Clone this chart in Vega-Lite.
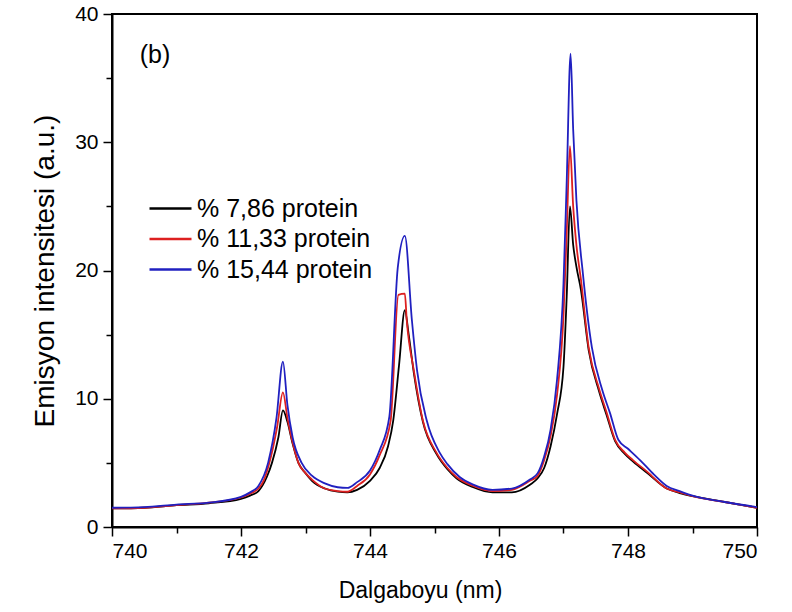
{
  "$schema": "https://vega.github.io/schema/vega-lite/v6.json",
  "width": 645,
  "height": 513,
  "autosize": "none",
  "padding": {"left": 112, "top": 14, "right": 35, "bottom": 85},
  "background": "white",
  "config": {
    "font": "Liberation Sans",
    "view": {"stroke": "black", "strokeWidth": 2},
    "axis": {"domainColor": "black", "domainWidth": 2, "tickColor": "black", "tickWidth": 1.5, "labelColor": "black", "titleColor": "black", "grid": false, "labelFont": "Liberation Sans", "titleFont": "Liberation Sans", "titleFontWeight": "normal"}
  },
  "datasets": {
    "spectra": [
      {"s": "% 7,86 protein", "nm": 740.0, "v": 1.45},
      {"s": "% 7,86 protein", "nm": 740.5, "v": 1.5},
      {"s": "% 7,86 protein", "nm": 741.0, "v": 1.7},
      {"s": "% 7,86 protein", "nm": 741.5, "v": 1.85},
      {"s": "% 7,86 protein", "nm": 742.0, "v": 2.2},
      {"s": "% 7,86 protein", "nm": 742.14, "v": 2.45},
      {"s": "% 7,86 protein", "nm": 742.27, "v": 2.8},
      {"s": "% 7,86 protein", "nm": 742.4, "v": 3.9},
      {"s": "% 7,86 protein", "nm": 742.48, "v": 5.0},
      {"s": "% 7,86 protein", "nm": 742.58, "v": 7.0},
      {"s": "% 7,86 protein", "nm": 742.65, "v": 9.1},
      {"s": "% 7,86 protein", "nm": 742.72, "v": 8.2},
      {"s": "% 7,86 protein", "nm": 742.8, "v": 6.5},
      {"s": "% 7,86 protein", "nm": 742.89, "v": 5.0},
      {"s": "% 7,86 protein", "nm": 743.0, "v": 4.2},
      {"s": "% 7,86 protein", "nm": 743.1, "v": 3.6},
      {"s": "% 7,86 protein", "nm": 743.3, "v": 3.0},
      {"s": "% 7,86 protein", "nm": 743.5, "v": 2.75},
      {"s": "% 7,86 protein", "nm": 743.65, "v": 2.7},
      {"s": "% 7,86 protein", "nm": 743.8, "v": 2.9},
      {"s": "% 7,86 protein", "nm": 744.0, "v": 3.6},
      {"s": "% 7,86 protein", "nm": 744.15, "v": 4.6},
      {"s": "% 7,86 protein", "nm": 744.28, "v": 6.3},
      {"s": "% 7,86 protein", "nm": 744.36, "v": 8.3},
      {"s": "% 7,86 protein", "nm": 744.45, "v": 12.6},
      {"s": "% 7,86 protein", "nm": 744.54, "v": 16.9},
      {"s": "% 7,86 protein", "nm": 744.6, "v": 15.0},
      {"s": "% 7,86 protein", "nm": 744.68, "v": 12.0},
      {"s": "% 7,86 protein", "nm": 744.82, "v": 8.2},
      {"s": "% 7,86 protein", "nm": 745.03, "v": 5.7},
      {"s": "% 7,86 protein", "nm": 745.2, "v": 4.5},
      {"s": "% 7,86 protein", "nm": 745.34, "v": 3.8},
      {"s": "% 7,86 protein", "nm": 745.6, "v": 3.1},
      {"s": "% 7,86 protein", "nm": 745.9, "v": 2.7},
      {"s": "% 7,86 protein", "nm": 746.2, "v": 2.7},
      {"s": "% 7,86 protein", "nm": 746.48, "v": 3.3},
      {"s": "% 7,86 protein", "nm": 746.6, "v": 3.8},
      {"s": "% 7,86 protein", "nm": 746.7, "v": 4.6},
      {"s": "% 7,86 protein", "nm": 746.8, "v": 6.3},
      {"s": "% 7,86 protein", "nm": 746.9, "v": 8.8},
      {"s": "% 7,86 protein", "nm": 747.0, "v": 12.5},
      {"s": "% 7,86 protein", "nm": 747.05, "v": 18.0},
      {"s": "% 7,86 protein", "nm": 747.1, "v": 25.0},
      {"s": "% 7,86 protein", "nm": 747.15, "v": 22.0},
      {"s": "% 7,86 protein", "nm": 747.2, "v": 20.3},
      {"s": "% 7,86 protein", "nm": 747.27, "v": 18.5},
      {"s": "% 7,86 protein", "nm": 747.39, "v": 13.8},
      {"s": "% 7,86 protein", "nm": 747.55, "v": 10.6},
      {"s": "% 7,86 protein", "nm": 747.67, "v": 8.7},
      {"s": "% 7,86 protein", "nm": 747.8, "v": 6.7},
      {"s": "% 7,86 protein", "nm": 747.95, "v": 5.7},
      {"s": "% 7,86 protein", "nm": 748.08, "v": 5.1},
      {"s": "% 7,86 protein", "nm": 748.3, "v": 4.2},
      {"s": "% 7,86 protein", "nm": 748.6, "v": 3.0},
      {"s": "% 7,86 protein", "nm": 748.8, "v": 2.65},
      {"s": "% 7,86 protein", "nm": 749.0, "v": 2.4},
      {"s": "% 7,86 protein", "nm": 749.5, "v": 1.95},
      {"s": "% 7,86 protein", "nm": 750.0, "v": 1.5},

      {"s": "% 11,33 protein", "nm": 740.0, "v": 1.45},
      {"s": "% 11,33 protein", "nm": 740.5, "v": 1.5},
      {"s": "% 11,33 protein", "nm": 741.0, "v": 1.7},
      {"s": "% 11,33 protein", "nm": 741.5, "v": 1.9},
      {"s": "% 11,33 protein", "nm": 742.0, "v": 2.3},
      {"s": "% 11,33 protein", "nm": 742.14, "v": 2.6},
      {"s": "% 11,33 protein", "nm": 742.27, "v": 3.0},
      {"s": "% 11,33 protein", "nm": 742.35, "v": 3.6},
      {"s": "% 11,33 protein", "nm": 742.44, "v": 5.0},
      {"s": "% 11,33 protein", "nm": 742.56, "v": 7.8},
      {"s": "% 11,33 protein", "nm": 742.65, "v": 10.5},
      {"s": "% 11,33 protein", "nm": 742.72, "v": 8.5},
      {"s": "% 11,33 protein", "nm": 742.8, "v": 6.6},
      {"s": "% 11,33 protein", "nm": 742.89, "v": 5.0},
      {"s": "% 11,33 protein", "nm": 743.0, "v": 4.2},
      {"s": "% 11,33 protein", "nm": 743.1, "v": 3.7},
      {"s": "% 11,33 protein", "nm": 743.3, "v": 3.0},
      {"s": "% 11,33 protein", "nm": 743.5, "v": 2.8},
      {"s": "% 11,33 protein", "nm": 743.65, "v": 2.75},
      {"s": "% 11,33 protein", "nm": 743.8, "v": 3.2},
      {"s": "% 11,33 protein", "nm": 744.0, "v": 4.1},
      {"s": "% 11,33 protein", "nm": 744.15, "v": 5.6},
      {"s": "% 11,33 protein", "nm": 744.32, "v": 8.3},
      {"s": "% 11,33 protein", "nm": 744.44, "v": 18.1},
      {"s": "% 11,33 protein", "nm": 744.54, "v": 18.2},
      {"s": "% 11,33 protein", "nm": 744.57, "v": 16.1},
      {"s": "% 11,33 protein", "nm": 744.68, "v": 12.2},
      {"s": "% 11,33 protein", "nm": 744.82, "v": 8.3},
      {"s": "% 11,33 protein", "nm": 745.03, "v": 5.8},
      {"s": "% 11,33 protein", "nm": 745.2, "v": 4.6},
      {"s": "% 11,33 protein", "nm": 745.34, "v": 3.9},
      {"s": "% 11,33 protein", "nm": 745.6, "v": 3.2},
      {"s": "% 11,33 protein", "nm": 745.9, "v": 2.8},
      {"s": "% 11,33 protein", "nm": 746.2, "v": 2.9},
      {"s": "% 11,33 protein", "nm": 746.48, "v": 3.6},
      {"s": "% 11,33 protein", "nm": 746.6, "v": 4.0},
      {"s": "% 11,33 protein", "nm": 746.7, "v": 5.2},
      {"s": "% 11,33 protein", "nm": 746.8, "v": 7.1},
      {"s": "% 11,33 protein", "nm": 746.9, "v": 10.3},
      {"s": "% 11,33 protein", "nm": 747.0, "v": 16.5},
      {"s": "% 11,33 protein", "nm": 747.05, "v": 23.0},
      {"s": "% 11,33 protein", "nm": 747.1, "v": 29.7},
      {"s": "% 11,33 protein", "nm": 747.15, "v": 25.0},
      {"s": "% 11,33 protein", "nm": 747.2, "v": 22.0},
      {"s": "% 11,33 protein", "nm": 747.27, "v": 19.3},
      {"s": "% 11,33 protein", "nm": 747.39, "v": 14.0},
      {"s": "% 11,33 protein", "nm": 747.55, "v": 10.8},
      {"s": "% 11,33 protein", "nm": 747.67, "v": 8.9},
      {"s": "% 11,33 protein", "nm": 747.8, "v": 6.8},
      {"s": "% 11,33 protein", "nm": 747.95, "v": 5.8},
      {"s": "% 11,33 protein", "nm": 748.08, "v": 5.2},
      {"s": "% 11,33 protein", "nm": 748.3, "v": 4.3},
      {"s": "% 11,33 protein", "nm": 748.6, "v": 3.0},
      {"s": "% 11,33 protein", "nm": 748.8, "v": 2.7},
      {"s": "% 11,33 protein", "nm": 749.0, "v": 2.4},
      {"s": "% 11,33 protein", "nm": 749.5, "v": 1.95},
      {"s": "% 11,33 protein", "nm": 750.0, "v": 1.5},

      {"s": "% 15,44 protein", "nm": 740.0, "v": 1.5},
      {"s": "% 15,44 protein", "nm": 740.5, "v": 1.55},
      {"s": "% 15,44 protein", "nm": 741.0, "v": 1.75},
      {"s": "% 15,44 protein", "nm": 741.5, "v": 1.9},
      {"s": "% 15,44 protein", "nm": 742.0, "v": 2.35},
      {"s": "% 15,44 protein", "nm": 742.14, "v": 2.7},
      {"s": "% 15,44 protein", "nm": 742.27, "v": 3.2},
      {"s": "% 15,44 protein", "nm": 742.42, "v": 5.0},
      {"s": "% 15,44 protein", "nm": 742.55, "v": 8.5},
      {"s": "% 15,44 protein", "nm": 742.65, "v": 12.9},
      {"s": "% 15,44 protein", "nm": 742.72, "v": 9.5},
      {"s": "% 15,44 protein", "nm": 742.8, "v": 7.0},
      {"s": "% 15,44 protein", "nm": 742.94, "v": 5.0},
      {"s": "% 15,44 protein", "nm": 743.1, "v": 4.0},
      {"s": "% 15,44 protein", "nm": 743.3, "v": 3.4},
      {"s": "% 15,44 protein", "nm": 743.5, "v": 3.1},
      {"s": "% 15,44 protein", "nm": 743.65, "v": 3.05},
      {"s": "% 15,44 protein", "nm": 743.8, "v": 3.5},
      {"s": "% 15,44 protein", "nm": 744.0, "v": 4.4},
      {"s": "% 15,44 protein", "nm": 744.15, "v": 6.0},
      {"s": "% 15,44 protein", "nm": 744.3, "v": 8.6},
      {"s": "% 15,44 protein", "nm": 744.43, "v": 20.2},
      {"s": "% 15,44 protein", "nm": 744.54, "v": 22.7},
      {"s": "% 15,44 protein", "nm": 744.65, "v": 16.1},
      {"s": "% 15,44 protein", "nm": 744.73, "v": 12.2},
      {"s": "% 15,44 protein", "nm": 744.88, "v": 8.3},
      {"s": "% 15,44 protein", "nm": 745.08, "v": 5.8},
      {"s": "% 15,44 protein", "nm": 745.2, "v": 4.9},
      {"s": "% 15,44 protein", "nm": 745.39, "v": 3.9},
      {"s": "% 15,44 protein", "nm": 745.6, "v": 3.3},
      {"s": "% 15,44 protein", "nm": 745.9, "v": 2.9},
      {"s": "% 15,44 protein", "nm": 746.2, "v": 3.0},
      {"s": "% 15,44 protein", "nm": 746.48, "v": 3.7},
      {"s": "% 15,44 protein", "nm": 746.6, "v": 4.2},
      {"s": "% 15,44 protein", "nm": 746.7, "v": 5.5},
      {"s": "% 15,44 protein", "nm": 746.8, "v": 7.6},
      {"s": "% 15,44 protein", "nm": 746.9, "v": 11.5},
      {"s": "% 15,44 protein", "nm": 747.0, "v": 19.0},
      {"s": "% 15,44 protein", "nm": 747.05, "v": 27.0},
      {"s": "% 15,44 protein", "nm": 747.11, "v": 36.9},
      {"s": "% 15,44 protein", "nm": 747.15, "v": 31.0},
      {"s": "% 15,44 protein", "nm": 747.2, "v": 25.5},
      {"s": "% 15,44 protein", "nm": 747.3, "v": 19.8},
      {"s": "% 15,44 protein", "nm": 747.44, "v": 14.0},
      {"s": "% 15,44 protein", "nm": 747.6, "v": 10.7},
      {"s": "% 15,44 protein", "nm": 747.72, "v": 8.9},
      {"s": "% 15,44 protein", "nm": 747.85, "v": 6.8},
      {"s": "% 15,44 protein", "nm": 748.0, "v": 6.1},
      {"s": "% 15,44 protein", "nm": 748.19, "v": 5.2},
      {"s": "% 15,44 protein", "nm": 748.4, "v": 4.1},
      {"s": "% 15,44 protein", "nm": 748.6, "v": 3.2},
      {"s": "% 15,44 protein", "nm": 748.8, "v": 2.8},
      {"s": "% 15,44 protein", "nm": 749.0, "v": 2.45},
      {"s": "% 15,44 protein", "nm": 749.5, "v": 1.95},
      {"s": "% 15,44 protein", "nm": 750.0, "v": 1.55}
    ],
    "label": [{"x": 740.43, "y": 36.8, "t": "(b)"}]
  },
  "layer": [
    {
      "data": {"name": "spectra"},
      "mark": {"type": "line", "strokeWidth": 1.8, "clip": true, "interpolate": "monotone"},
      "encoding": {
        "x": {"field": "nm", "type": "quantitative", "scale": {"domain": [740, 750], "nice": false, "zero": false},
          "axis": {"orient": "bottom", "values": [740, 742, 744, 746, 748, 750], "tickSize": 9, "labelFontSize": 21, "labelPadding": 4, "title": "Dalgaboyu (nm)", "titleFontSize": 23, "titlePadding": 18, "titleX": 308, "format": "d"}},
        "y": {"field": "v", "type": "quantitative", "scale": {"domain": [0, 40], "nice": false},
          "axis": {"orient": "left", "values": [0, 10, 20, 30, 40], "tickSize": 9, "labelFontSize": 21, "labelPadding": 5, "title": "Emisyon intensitesi (a.u.)", "titleFontSize": 28, "titlePadding": 15}},
        "color": {"field": "s", "type": "nominal", "sort": null,
          "scale": {"domain": ["% 7,86 protein", "% 11,33 protein", "% 15,44 protein"], "range": ["#000000", "#dd2020", "#2020c0"]},
          "legend": {"title": null, "orient": "none", "legendX": 42, "legendY": 178, "symbolType": "M-1.4,0H1.4", "symbolSize": 900, "symbolStrokeWidth": 2.5, "labelFontSize": 25, "labelFont": "Liberation Sans", "labelColor": "black", "labelOffset": 10, "rowPadding": 0.5, "labelLimit": 300}}
      }
    },
    {
      "data": {"name": "spectra"},
      "mark": {"type": "point", "opacity": 0},
      "encoding": {
        "x": {"field": "nm", "type": "quantitative",
          "axis": {"orient": "bottom", "values": [741, 743, 745, 747, 749], "labels": false, "domain": false, "tickSize": 6, "title": null}},
        "y": {"field": "v", "type": "quantitative",
          "axis": {"orient": "left", "values": [5, 15, 25, 35], "labels": false, "domain": false, "tickSize": 6, "title": null}}
      }
    },
    {
      "data": {"name": "label"},
      "mark": {"type": "text", "align": "left", "baseline": "middle", "fontSize": 25, "font": "Liberation Sans", "color": "black"},
      "encoding": {
        "x": {"field": "x", "type": "quantitative", "axis": null},
        "y": {"field": "y", "type": "quantitative", "axis": null},
        "text": {"field": "t"}
      }
    }
  ],
  "resolve": {"axis": {"x": "independent", "y": "independent"}}
}
